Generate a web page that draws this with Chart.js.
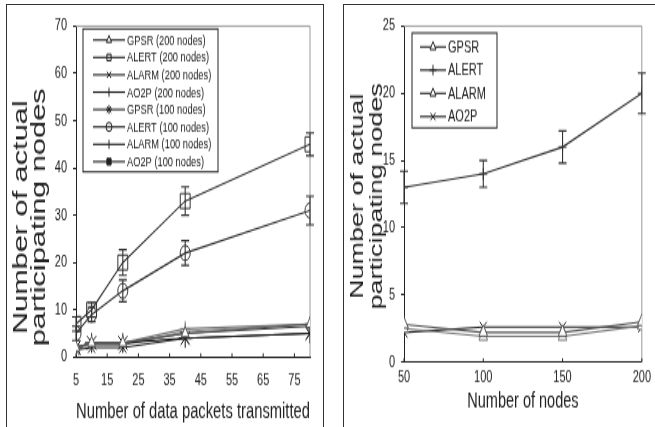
<!DOCTYPE html>
<html>
<head>
<meta charset="utf-8">
<title>Number of actual participating nodes</title>
<script src="https://cdn.jsdelivr.net/npm/chart.js@4/dist/chart.umd.min.js"></script>
<style>
  html, body { margin: 0; padding: 0; background: #fff; }
  body { width: 655px; height: 427px; position: relative; overflow: hidden; }
  .panel { position: absolute; border: 1.5px solid #333; box-sizing: border-box; }
  .stretch { position: absolute; top: 0; transform-origin: 0 0; transform: scaleY(1.4982); }
  canvas { display: block; }
</style>
</head>
<body>
<div class="panel" style="left:6px;top:4px;width:318px;height:440px;"></div>
<div class="panel" style="left:343px;top:4px;width:330px;height:440px;"></div>
<div class="stretch" style="left:0;width:322px;height:285px;"><canvas id="leftChart" width="322" height="285"></canvas></div>
<div class="stretch" style="left:330px;width:325px;height:285px;"><canvas id="rightChart" width="325" height="285"></canvas></div>
<script>
// left panel: participating nodes vs packets sent
const xPackets     = [5, 10, 20, 40, 80];
const xPacketTicks = [5, 15, 25, 35, 45, 55, 65, 75];
const gpsr200   = [2, 3, 3, 5, 7];
const alert200  = [7, 10, 20, 33, 45];
const alert200Err = [1.5, 1.5, 2.7, 3, 2.4];
const alarm200  = [1.5, 2, 2, 4, 5];
const ao2p200   = [2, 3, 3, 6, 7];
const gpsr100   = [2, 3, 3, 4, 5];
const alert100  = [5, 9, 14, 22, 31];
const alert100Err = [1.5, 1.5, 2.3, 2.6, 3];
const alarm100  = [2, 2.5, 2.5, 5.5, 7];
const ao2p100   = [2, 3, 3, 5, 6.5];
const leftLabels = ['GPSR (200 nodes)', 'ALERT (200 nodes)', 'ALARM (200 nodes)', 'AO2P (200 nodes)',
                    'GPSR (100 nodes)', 'ALERT (100 nodes)', 'ALARM (100 nodes)', 'AO2P (100 nodes)'];

// right panel: participating nodes vs network size
const xNodes    = [50, 100, 150, 200];
const gpsrN     = [2.8, 2.2, 2.2, 3.0];
const alertN    = [13, 14, 16, 20];
const alertNErr = [1.2, 1.0, 1.2, 1.5];
const alarmN    = [2.5, 1.9, 1.9, 2.7];
const ao2pN     = [2.2, 2.6, 2.6, 2.6];
const rightLabels = ['GPSR', 'ALERT', 'ALARM', 'AO2P'];

Chart.defaults.font.family = "'Liberation Sans', Arial, sans-serif";
Chart.defaults.color = '#222';

const pts = (xs, ys) => xs.map((x, i) => ({ x, y: ys[i] }));

function series(label, xs, ys, color, style, radius, extra) {
    return Object.assign({
        label,
        data: pts(xs, ys),
        borderColor: color,
        borderWidth: 1.1,
        pointStyle: style,
        pointRadius: radius,
        pointBorderColor: color,
        pointBackgroundColor: '#fff',
        pointBorderWidth: 1,
        tension: 0,
        fill: false,
    }, extra || {});
}

// gray box on top/right, inward ticks on the x axis
const frame = {
    id: 'frame',
    beforeDatasetsDraw(chart) {
        const { ctx, chartArea: a } = chart;
        ctx.save();
        ctx.strokeStyle = '#9a9a9a';
        ctx.lineWidth = 1;
        ctx.beginPath();
        ctx.moveTo(a.left, a.top); ctx.lineTo(a.right, a.top); ctx.lineTo(a.right, a.bottom);
        ctx.stroke();
        const xs = chart.scales.x;
        ctx.strokeStyle = '#222';
        ctx.beginPath();
        xs.ticks.forEach(t => {
            const px = xs.getPixelForValue(t.value);
            ctx.moveTo(px, a.bottom); ctx.lineTo(px, a.bottom - 2.5);
        });
        ctx.stroke();
        ctx.restore();
    }
};

const errorBars = {
    id: 'errorBars',
    afterDatasetsDraw(chart) {
        const { ctx } = chart;
        const ys = chart.scales.y;
        ctx.save();
        chart.data.datasets.forEach((ds, i) => {
            if (!ds.errors) return;
            const meta = chart.getDatasetMeta(i);
            ctx.strokeStyle = ds.borderColor;
            ctx.lineWidth = 1.1;
            ctx.beginPath();
            meta.data.forEach((p, j) => {
                const v = ds.data[j].y, e = ds.errors[j];
                const y1 = ys.getPixelForValue(v + e), y2 = ys.getPixelForValue(v - e);
                ctx.moveTo(p.x, y1); ctx.lineTo(p.x, y2);
                ctx.moveTo(p.x - 4, y1); ctx.lineTo(p.x + 4, y1);
                ctx.moveTo(p.x - 4, y2); ctx.lineTo(p.x + 4, y2);
            });
            ctx.stroke();
        });
        ctx.restore();
    }
};

const yTitle = {
    id: 'yTitle',
    afterDraw(chart, args, o) {
        const { ctx } = chart;
        ctx.save();
        ctx.fillStyle = '#222';
        ctx.font = `${o.size}px 'Liberation Sans', Arial, sans-serif`;
        ctx.textAlign = 'center';
        ctx.textBaseline = 'middle';
        o.lines.forEach((line, i) => {
            ctx.save();
            ctx.translate(o.xs[i], o.cy);
            ctx.rotate(-Math.PI / 2);
            ctx.fillText(line, 0, 0);
            ctx.restore();
        });
        ctx.restore();
    }
};

const boxLegend = {
    id: 'boxLegend',
    afterDraw(chart, args, o) {
        const { ctx } = chart;
        ctx.save();
        ctx.fillStyle = '#fff';
        ctx.fillRect(o.left, o.top, o.width, o.height);
        ctx.strokeStyle = '#222';
        ctx.lineWidth = 1;
        ctx.strokeRect(o.left, o.top, o.width, o.height);
        ctx.font = `${o.size}px 'Liberation Sans', Arial, sans-serif`;
        ctx.textBaseline = 'middle';
        chart.data.datasets.forEach((ds, i) => {
            const y = o.row0 + i * o.rowStep;
            ctx.strokeStyle = '#222';
            ctx.lineWidth = 1.1;
            ctx.beginPath();
            ctx.moveTo(o.lineFrom, y); ctx.lineTo(o.lineTo, y);
            ctx.stroke();
            if (Chart.helpers && Chart.helpers.drawPoint) {
                ctx.fillStyle = ds.pointBackgroundColor;
                ctx.strokeStyle = '#222';
                ctx.lineWidth = 1;
                Chart.helpers.drawPoint(ctx, {
                    pointStyle: ds.pointStyle,
                    radius: o.markR,
                    rotation: ds.pointRotation || 0,
                    borderWidth: 1,
                }, (o.lineFrom + o.lineTo) / 2, y);
            }
            ctx.fillStyle = '#222';
            ctx.fillText(ds.label, o.textX, y + 0.5);
        });
        ctx.restore();
    }
};

function axisOpts(min, max, step, yWidth, xHeight, xTicks, xTitle, xTitleSize, xTickPad, xTitlePad) {
    return {
        x: {
            type: 'linear', min: xTicks.min, max: xTicks.max,
            afterBuildTicks: s => { s.ticks = xTicks.list.map(v => ({ value: v })); },
            afterFit: s => { s.height = xHeight; },
            grid: { drawOnChartArea: false, drawTicks: false },
            border: { color: '#222', width: 1 },
            ticks: { padding: xTickPad, font: { size: 11 }, color: '#222', maxRotation: 0 },
            title: { display: true, text: xTitle, font: { size: xTitleSize }, color: '#222',
                     padding: { top: 0, bottom: xTitlePad } },
        },
        y: {
            min, max,
            afterFit: s => { s.width = yWidth; },
            grid: { drawOnChartArea: false, drawTicks: true, tickLength: 3, color: '#222' },
            border: { color: '#222', width: 1 },
            ticks: { stepSize: step, padding: 6, font: { size: 11 }, color: '#222' },
        }
    };
}

new Chart(document.getElementById('leftChart'), {
    type: 'line',
    data: {
        datasets: [
            series(leftLabels[0], xPackets, gpsr200, '#555', 'triangle', 4.5),
            series(leftLabels[1], xPackets, alert200, '#333', 'rect', 7, { errors: alert200Err, pointBackgroundColor: 'rgba(255,255,255,0)' }),
            series(leftLabels[2], xPackets, alarm200, '#222', 'crossRot', 5),
            series(leftLabels[3], xPackets, ao2p200, '#777', 'cross', 5),
            series(leftLabels[4], xPackets, gpsr100, '#111', 'star', 6.5),
            series(leftLabels[5], xPackets, alert100, '#333', 'circle', 5, { errors: alert100Err, pointBackgroundColor: 'rgba(255,255,255,0)' }),
            series(leftLabels[6], xPackets, alarm100, '#888', 'line', 5, { pointRotation: 90 }),
            series(leftLabels[7], xPackets, ao2p100, '#333', 'rect', 2, { pointBackgroundColor: '#222' }),
        ]
    },
    options: {
        responsive: false,
        animation: false,
        events: [],
        layout: { padding: { top: 17.4, right: 12, left: 0, bottom: 0 } },
        scales: axisOpts(0, 70, 10, 76, 46.7, { min: 5, max: 80, list: xPacketTicks },
                         'Number of data packets transmitted', 15.2, 9, 0.6),
        plugins: {
            legend: { display: false },
            tooltip: { enabled: false },
            yTitle: { lines: ['Number of actual', 'participating nodes'], xs: [21, 39], cy: 145, size: 20.5 },
            boxLegend: { left: 83, top: 19.3, width: 135, height: 95.4, row0: 26.7, rowStep: 11.6,
                         lineFrom: 93, lineTo: 125, textX: 127, size: 9.3, markR: 3 },
        }
    },
    plugins: [frame, errorBars, yTitle, boxLegend]
});

new Chart(document.getElementById('rightChart'), {
    type: 'line',
    data: {
        datasets: [
            series(rightLabels[0], xNodes, gpsrN, '#555', 'triangle', 5),
            series(rightLabels[1], xNodes, alertN, '#333', 'cross', 4, { errors: alertNErr }),
            series(rightLabels[2], xNodes, alarmN, '#777', 'triangle', 5),
            series(rightLabels[3], xNodes, ao2pN, '#222', 'crossRot', 5),
        ]
    },
    options: {
        responsive: false,
        animation: false,
        events: [],
        layout: { padding: { top: 17.4, right: 11, left: 0, bottom: 0 } },
        scales: axisOpts(0, 25, 5, 74, 43.4, { min: 50, max: 200, list: xNodes },
                         'Number of nodes', 14.5, 4, 8.6),
        plugins: {
            legend: { display: false },
            tooltip: { enabled: false },
            yTitle: { lines: ['Number of actual', 'participating nodes'], xs: [28, 47], cy: 131, size: 18 },
            boxLegend: { left: 82, top: 22, width: 85, height: 63.3, row0: 31.3, rowStep: 15.5,
                         lineFrom: 90, lineTo: 116, textX: 118, size: 11, markR: 3.5 },
        }
    },
    plugins: [frame, errorBars, yTitle, boxLegend]
});
</script>
</body>
</html>
